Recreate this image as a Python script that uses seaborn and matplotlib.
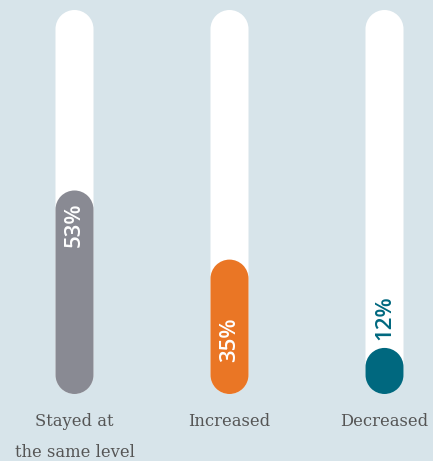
import matplotlib
matplotlib.use("Agg")
import numpy as np
import matplotlib.pyplot as plt
import seaborn as sns
from matplotlib.path import Path
from matplotlib.patches import PathPatch

categories = ["Stayed at\nthe same level", "Increased", "Decreased"]
values = [53, 35, 12]
value_labels = ["53%", "35%", "12%"]
colors = ["#898a93", "#ea7625", "#00687f"]
track_total = [100, 100, 100]

BG = "#d7e4ea"
W, H = 433, 461
fig = plt.figure(figsize=(W / 100, H / 100), dpi=100, facecolor=BG)
ax_bottom_px, ax_top_px = 394, 10
ax = fig.add_axes([0, (H - ax_bottom_px) / H, 1, (ax_bottom_px - ax_top_px) / H])
ax.set_facecolor(BG)

spacing_px = 155
bar_px = 38
bar_w = bar_px / spacing_px

sns.barplot(x=categories, y=track_total, color="white", width=bar_w, ax=ax,
            saturation=1, zorder=1)
sns.barplot(x=categories, y=values, hue=categories, palette=colors, width=bar_w,
            ax=ax, saturation=1, legend=False, zorder=2)

ax.set_xlim(-74.5 / spacing_px, 2 + (W - 384.5) / spacing_px)
ax.set_ylim(0, 100)

# turn each bar into a pill shape (semicircular ends)
px_per_y = (ax_bottom_px - ax_top_px) / 100
r_y = (bar_px / 2) / px_per_y


def pill_path(x0, y0, w, h):
    r_x = w / 2
    ry = min(r_y, h / 2)
    cx = x0 + r_x
    top = Path.arc(0, 180)
    bot = Path.arc(180, 360)
    v1 = top.vertices * [r_x, ry] + [cx, y0 + h - ry]
    v2 = bot.vertices * [r_x, ry] + [cx, y0 + ry]
    c1 = top.codes.copy()
    c2 = bot.codes.copy()
    c2[0] = Path.LINETO
    verts = np.vstack([v1, v2, v1[:1]])
    codes = np.concatenate([c1, c2, [Path.CLOSEPOLY]])
    return Path(verts, codes)


for p in list(ax.patches):
    x0, y0 = p.get_x(), p.get_y()
    w, h = p.get_width(), p.get_height()
    fc = p.get_facecolor()
    z = p.get_zorder()
    p.set_visible(False)
    ax.add_patch(PathPatch(pill_path(x0, y0, w, h), facecolor=fc,
                           edgecolor="none", zorder=z))

# value labels
label_y = [values[0] - 9, values[1] - 21, values[2] + 8]
label_colors = ["white", "white", colors[2]]
for i, (txt, yv, c) in enumerate(zip(value_labels, label_y, label_colors)):
    ax.text(i, yv, txt, rotation=90, ha="center", va="center", color=c,
            fontsize=16, family="Open Sans", fontweight="semibold", zorder=5)

for s in ax.spines.values():
    s.set_visible(False)
ax.set_yticks([])
ax.set_xlabel("")
ax.set_ylabel("")
ax.tick_params(axis="x", length=0, pad=14)
for t in ax.get_xticklabels():
    t.set_family("DejaVu Serif")
    t.set_fontsize(11.8)
    t.set_color("#555555")
    t.set_linespacing(2.05)

fig.savefig("out.png", dpi=100, facecolor=BG)
